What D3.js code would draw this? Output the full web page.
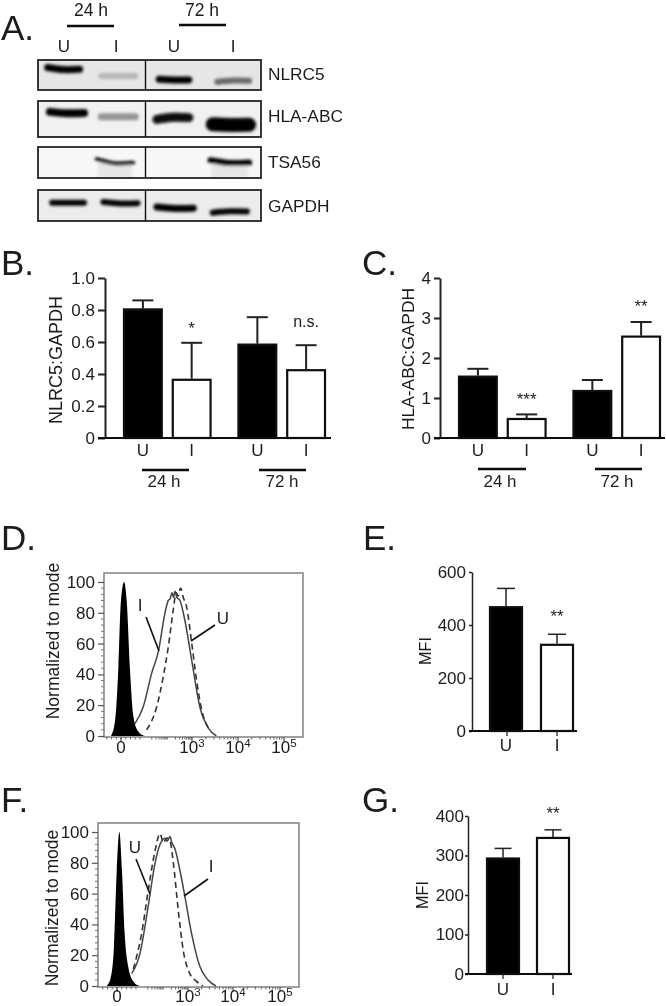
<!DOCTYPE html>
<html><head><meta charset="utf-8">
<script src="https://cdn.jsdelivr.net/npm/d3@7/dist/d3.min.js"></script>
<style>html,body{margin:0;padding:0;background:#fff}svg{display:block}text{font-family:"Liberation Sans",Arial,sans-serif;fill:#1c1c1c}</style>
</head><body><div id="c"></div>
<script>
// ---- data ----
const treatments = ["U","I"];
const timepoints = ["24 h","72 h"];
const blotRows = ["NLRC5","HLA-ABC","TSA56","GAPDH"];
// blot bands in gel units: [row, gelX0, gelX1, rowPct, thickness, intensity, sag]
const blotBands = [
 ["NLRC5",3,20,30,7,1,1.5],["NLRC5",27,45,53,6,.2,0],["NLRC5",53,69,66,7,1,.5],["NLRC5",79,96,70,6,.55,-1],
 ["HLA-ABC",4,22,33,8,1,1],["HLA-ABC",27,45,44,7,.35,0],["HLA-ABC",52,69,47,9,.97,-1.5],["HLA-ABC",77,96,66,14,1,.5],
 ["TSA56",25,44,49,4,1,3],["TSA56",76,96,49,6,1,2],
 ["GAPDH",5,22,41,6,1,0],["GAPDH",28,46,42,6,1,1],["GAPDH",52,71,58,7,1,1],["GAPDH",77,95,70,6,1,-1]
];
const blotShade = {"NLRC5":"#e6e6e6","HLA-ABC":"#f1f1f1","TSA56":"#f7f7f7","GAPDH":"#ececec"};
const nlrc5Values = [0.81,0.37,0.59,0.43];
const nlrc5Upper  = [0.86,0.595,0.755,0.58];
const nlrc5Marks  = ["","*","","n.s."];
const hlaValues = [1.56,0.5,1.2,2.56];
const hlaUpper  = [1.73,0.59,1.45,2.9];
const hlaMarks  = ["","***","","**"];
const mfiEValues = [471,329]; const mfiEUpper = [538,365]; const mfiEMarks = ["","**"];
const mfiGValues = [295,347]; const mfiGUpper = [318,365]; const mfiGMarks = ["","**"];
// histograms: [decade-axis position, % of mode]
const dBlack = [[-.42,0],[-.25,10],[-.11,45],[-.01,86],[.13,100],[.24,88],[.38,43],[.52,13],[.73,3],[1.01,0]];
const dI = [[.59,8],[.94,19],[1.3,41],[1.58,55],[1.86,80],[2.0,88],[2.07,89],[2.16,93],[2.22,90],[2.28,94],[2.36,90],[2.49,88],[2.7,75],[2.99,49],[3.17,19],[3.36,5],[3.53,0]];
const dU = [[1.08,4],[1.51,19],[1.79,39],[2.0,58],[2.21,82],[2.33,93],[2.42,91],[2.52,96],[2.63,90],[2.77,84],[2.99,60],[3.1,36],[3.21,17],[3.36,5]];
const fBlack = [[-.44,0],[-.27,5],[-.13,25],[-.01,75],[.1,100],[.21,75],[.32,35],[.48,12],[.69,3],[.97,0]];
const fI = [[.62,8],[.97,21],[1.32,52],[1.61,80],[1.82,92],[2.03,96],[2.12,94],[2.24,97],[2.32,93],[2.45,89],[2.66,75],[2.87,58],[3.08,34],[3.26,13],[3.44,4],[3.62,0]];
const fU = [[.69,11],[1.04,34],[1.32,62],[1.61,88],[1.82,99],[1.96,93],[2.1,96],[2.24,94],[2.38,80],[2.59,49],[2.8,23],[3.04,8],[3.19,3],[3.33,0]];
const percentTicks = [0,20,40,60,80,100];
const decadeTicks = [0,3,4,5];

// ---- helpers ----
const svg = d3.select("#c").append("svg").attr("width",666).attr("height",1006);
const defs = svg.append("defs");
const soft = (id,s)=>defs.append("filter").attr("id",id).attr("filterUnits","userSpaceOnUse")
  .attr("x",0).attr("y",0).attr("width",666).attr("height",1006)
  .append("feGaussianBlur").attr("stdDeviation",s);
soft("page",.65); soft("band",1.4);
const root = svg.append("g").attr("filter","url(#page)");
const label=(t,x,y,size,anchor="start",rot=null)=>{
  const e=root.append("text").text(t).attr("x",x).attr("y",y).attr("font-size",size).attr("text-anchor",anchor);
  if(rot!==null) e.attr("transform",`rotate(${rot} ${x} ${y})`);
  return e;
};
[["A.",1,40],["B.",1,275],["C.",362,275],["D.",1,550],["E.",363,550],["F.",1,812],["G.",362,812]]
  .forEach(d=>label(d[0],d[1],d[2],35));

// ---- panel A ----
const gel = d3.scaleLinear().domain([0,100]).range([38,261]);
const rowBox = d3.scaleOrdinal().domain(blotRows).range([[60,90],[101,137],[147,178],[190,221]]);
const laneLine = d3.line().curve(d3.curveNatural);
const bandInk = d3.interpolateRgb("#e4e4e4","#000");
blotRows.forEach((r,i)=>{
  const [y0,y1]=rowBox(r);
  const cid="clip"+i;
  defs.append("clipPath").attr("id",cid).append("rect").attr("x",gel(0)).attr("y",y0).attr("width",gel(100)-gel(0)).attr("height",y1-y0);
  const g=root.append("g").attr("clip-path",`url(#${cid})`);
  g.append("rect").attr("x",gel(0)).attr("y",y0).attr("width",gel(100)-gel(0)).attr("height",y1-y0).attr("fill",blotShade[r]);
  const rowY=d3.scaleLinear().domain([0,100]).range([y0,y1]);
  const bands=g.append("g").attr("filter","url(#band)");
  if(r==="TSA56") blotBands.filter(b=>b[0]===r).forEach(b=>{
    bands.append("rect").attr("x",gel(b[1])+4).attr("width",gel(b[2])-gel(b[1])-8).attr("y",rowY(b[3])).attr("height",y1-rowY(b[3])).attr("fill","#e6e6e6");
  });
  blotBands.filter(b=>b[0]===r).forEach(b=>{
    const [,a,z,p,t,k,sag]=b;
    bands.append("path").attr("fill","none").attr("stroke",bandInk(k))
      .attr("stroke-width",t).attr("stroke-linecap","round")
      .attr("d",laneLine([[gel(a)+3,rowY(p)-sag],[(gel(a)+gel(z))/2,rowY(p)+sag*.4],[gel(z)-3,rowY(p)+sag*.2]]));
  });
  root.append("rect").attr("x",gel(0)).attr("y",y0).attr("width",gel(100)-gel(0)).attr("height",y1-y0).attr("fill","none").attr("stroke","#222").attr("stroke-width",1.8);
  root.append("line").attr("x1",145.5).attr("x2",145.5).attr("y1",y0).attr("y2",y1).attr("stroke","#111").attr("stroke-width",1.4);
  label(r,268,[80,122,168,212][i],17.3);
});
[["24 h",91,16,67,114,26],["72 h",202,16,179,226,25]].forEach(d=>{
  label(d[0],d[1],d[2],17.5,"middle");
  root.append("line").attr("x1",d[3]).attr("x2",d[4]).attr("y1",d[5]).attr("y2",d[5]).attr("stroke","#111").attr("stroke-width",2.6);
});
[["U",64],["I",116],["U",174],["I",233]].forEach(d=>label(d[0],d[1],52,17,"middle"));

// ---- bar panels ----
function bars(o){
  const g=root.append("g");
  const y=d3.scaleLinear().domain(o.domain).range([o.y0,o.y1]);
  const ax=g.append("g").attr("transform",`translate(${o.axisX},0)`)
    .call(d3.axisLeft(y).tickValues(o.ticks).tickSize(o.tick).tickSizeOuter(0).tickPadding(o.pad).tickFormat(o.fmt||d3.format("d")));
  ax.select(".domain").attr("stroke","#222").attr("stroke-width",o.sw);
  ax.selectAll(".tick line").attr("stroke","#222").attr("stroke-width",o.sw);
  ax.selectAll(".tick text").attr("font-size",o.font).attr("font-family",'"Liberation Sans"').attr("fill","#1c1c1c");
  const data=o.values.map((v,i)=>({v,u:o.upper[i],m:o.marks[i],t:treatments[i%2],c:o.x(i),w:o.w}));
  // error whiskers
  data.forEach(d=>{
    g.append("line").attr("x1",d.c).attr("x2",d.c).attr("y1",y(d.v)).attr("y2",y(d.u)).attr("stroke","#222").attr("stroke-width",o.ew);
    g.append("line").attr("x1",d.c-o.cap/2).attr("x2",d.c+o.cap/2).attr("y1",y(d.u)).attr("y2",y(d.u)).attr("stroke","#222").attr("stroke-width",o.ew);
  });
  g.selectAll("rect.bar").data(data).join("rect").attr("class","bar")
    .attr("x",d=>d.c-d.w/2+1).attr("width",d=>d.w-2).attr("y",d=>y(d.v)+1).attr("height",d=>y(0)-y(d.v)-1)
    .attr("fill",d=>d.t==="U"?"#000":"#fff").attr("stroke","#111").attr("stroke-width",2.2);
  g.append("line").attr("x1",o.axisX-o.tick).attr("x2",o.xEnd).attr("y1",y(0)).attr("y2",y(0)).attr("stroke","#111").attr("stroke-width",2.2);
  data.forEach(d=>{
    label(d.t,d.c,o.labelY,o.xfont||17,"middle");
    if(d.m) label(d.m,d.c+(o.markDx||0),d.m==="n.s."?y(d.u)-18:o.markY(d,y),d.m==="n.s."?16:17,"middle");
  });
  label(o.title,o.titleX,o.titleY,o.titleSize,"middle",-90);
  return {g,y};
}
function grouped(left,right){
  const outer=d3.scaleBand().domain(timepoints).range([left,right]).paddingInner(.226).paddingOuter(0);
  const inner=d3.scaleBand().domain(treatments).range([0,outer.bandwidth()]).paddingInner(.184);
  return {x:i=>outer(timepoints[i>>1])+inner(treatments[i%2])+inner.bandwidth()/2,w:inner.bandwidth()};
}
const bs=grouped(123,326);
bars({domain:[0,1],y0:438,y1:278,axisX:105,ticks:[0,.2,.4,.6,.8,1],tick:7,pad:3,font:17,sw:2,ew:2,cap:21,xEnd:331,
  fmt:d=>d===0?"0":d3.format(".1f")(d),values:nlrc5Values,upper:nlrc5Upper,marks:nlrc5Marks,x:bs.x,w:bs.w,labelY:456,
  markY:()=>334,title:"NLRC5:GAPDH",titleX:62,titleY:360,titleSize:18});
const cs=grouped(458,661);
bars({domain:[0,4],y0:438,y1:278,axisX:440,ticks:[0,1,2,3,4],tick:6,pad:3,font:17,sw:2,ew:2,cap:21,xEnd:665,
  values:hlaValues,upper:hlaUpper,marks:hlaMarks,x:cs.x,w:cs.w,labelY:456,
  markY:d=>d.m==="***"?405:312,title:"HLA-ABC:GAPDH",titleX:414,titleY:359,titleSize:17.4});
const underLabels=[[142,189,164,470,"24 h"],[259,306,282,470,"72 h"],[478,526,500,469,"24 h"],[595,642,617,469,"72 h"]];
underLabels.forEach(d=>{
  root.append("line").attr("x1",d[0]).attr("x2",d[1]).attr("y1",d[3]).attr("y2",d[3]).attr("stroke","#111").attr("stroke-width",2.4);
  label(d[4],d[2],487,17,"middle");
});
const ex=d3.scaleBand().domain(treatments).range([489,574]).paddingInner(.333);
bars({domain:[0,600],y0:731,y1:572,axisX:472,ticks:[0,200,400,600],tick:3,pad:3,font:17,sw:1.5,ew:1.5,cap:18,xEnd:577,
  values:mfiEValues,upper:mfiEUpper,marks:mfiEMarks,x:i=>ex(treatments[i])+ex.bandwidth()/2,w:ex.bandwidth(),labelY:751,
  markY:()=>622,title:"MFI",titleX:431,titleY:651,titleSize:16.2});
const gx=d3.scaleBand().domain(treatments).range([486,570]).paddingInner(.32);
bars({domain:[0,400],y0:974,y1:816,axisX:468,ticks:[0,100,200,300,400],tick:3,pad:1,font:17,sw:1.5,ew:1.5,cap:17,xEnd:572,
  values:mfiGValues,upper:mfiGUpper,marks:mfiGMarks,x:i=>gx(treatments[i])+gx.bandwidth()/2,w:gx.bandwidth(),labelY:995,
  markY:()=>819,title:"MFI",titleX:428,titleY:895,titleSize:16.2});
[[507,731],[557,731],[503,974],[553,974]].forEach(d=>root.append("line").attr("x1",d[0]).attr("x2",d[0]).attr("y1",d[1]).attr("y2",d[1]+5).attr("stroke","#222").attr("stroke-width",1.3));

// ---- histograms ----
function hist(o){
  const g=root.append("g");
  const x=d3.scaleLinear().domain([0,3,4,5]).range(o.xr);
  const y=d3.scaleLinear().domain([0,100]).range([o.y0,o.y100]);
  const area=d3.area().x(d=>x(d[0])).y0(y(0)).y1(d=>y(d[1])).curve(d3.curveMonotoneX);
  const line=d3.line().x(d=>x(d[0])).y(d=>y(d[1])).curve(d3.curveMonotoneX);
  g.append("path").attr("d",line(o.solid)).attr("fill","none").attr("stroke","#444").attr("stroke-width",1.5);
  g.append("path").attr("d",line(o.dash)).attr("fill","none").attr("stroke","#333").attr("stroke-width",1.6).attr("stroke-dasharray","6,4");
  g.append("path").attr("d",area(o.black)).attr("fill","#000");
  g.append("rect").attr("x",o.box[0]).attr("y",o.box[1]).attr("width",o.box[2]-o.box[0]).attr("height",o.box[3]-o.box[1]).attr("fill","none").attr("stroke","#777").attr("stroke-width",1.4);
  const ya=g.append("g").attr("transform",`translate(${o.box[0]},0)`).call(d3.axisLeft(y).tickValues(percentTicks).tickSize(6).tickSizeOuter(0).tickPadding(3));
  ya.select(".domain").remove();
  ya.selectAll(".tick line").attr("stroke","#555").attr("stroke-width",1.2);
  ya.selectAll(".tick text").attr("font-size",17).attr("font-family",'"Liberation Sans"').attr("fill","#1c1c1c");
  // minor ticks
  const minorY=d3.range(0,101,4).filter(v=>v%20);
  g.selectAll("line.my").data(minorY).join("line").attr("class","my").attr("x1",o.box[0]-3).attr("x2",o.box[0]).attr("y1",y).attr("y2",y).attr("stroke","#777");
  const minorX=[];
  [1,2,3,4].forEach(k=>d3.range(2,10).forEach(m=>minorX.push(k+Math.log10(m))));
  d3.range(-.6,1,.2).forEach(v=>minorX.push(v));
  g.selectAll("line.mx").data(minorX.filter(v=>x(v)<o.box[2]&&x(v)>o.box[0])).join("line").attr("class","mx").attr("x1",x).attr("x2",x).attr("y1",o.box[3]).attr("y2",o.box[3]+2.5).attr("stroke","#666");
  decadeTicks.forEach(t=>{
    g.append("line").attr("x1",x(t)).attr("x2",x(t)).attr("y1",o.box[3]).attr("y2",o.box[3]+5).attr("stroke","#555").attr("stroke-width",1.2);
    const e=label(t===0?"0":"10",x(t),o.tickY,17,"middle");
    if(t) e.append("tspan").text(t).attr("dy",-6).attr("font-size",11.5);
  });
  label("Normalized to mode",o.titleX,o.titleY,17.5,"middle",-90);
  o.notes.forEach(n=>{
    label(n[0],n[1],n[2],17,"middle");
    root.append("line").attr("x1",n[3]).attr("y1",n[4]).attr("x2",n[5]).attr("y2",n[6]).attr("stroke","#111").attr("stroke-width",1.6);
  });
}
hist({xr:[121,192,238,284],y0:736,y100:582,box:[104,573,303,737],tickY:753,titleX:59,titleY:641,
  black:dBlack,solid:dI,dash:dU,
  notes:[["I",140,611,146,617,159,651],["U",223,624,215,625,191,641]]});
hist({xr:[117,188,233,280],y0:986,y100:832,box:[98,823,299,987],tickY:1002,titleX:58,titleY:908,
  black:fBlack,solid:fI,dash:fU,
  notes:[["U",135,853,136,859,150,894],["I",211,872,208,879,184,896]]});
</script></body></html>
